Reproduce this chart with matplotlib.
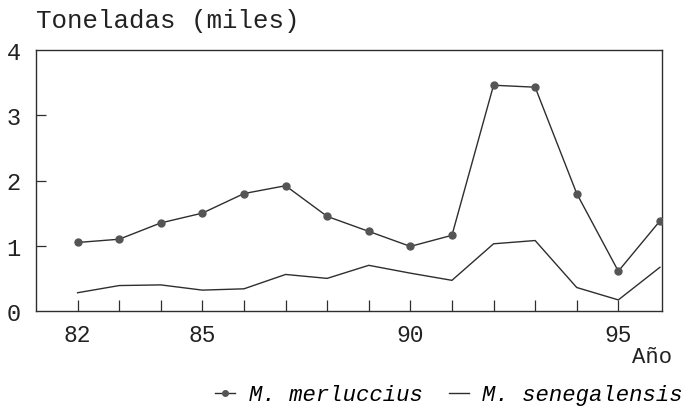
import numpy as np
import matplotlib.pyplot as plt
from matplotlib.lines import Line2D

# datos (miles de toneladas)
years = [82, 83, 84, 85, 86, 87, 88, 89, 90, 91, 92, 93, 94, 95, 96]
merluccius = [1.05, 1.10, 1.35, 1.50, 1.80, 1.92, 1.45, 1.22, 0.99, 1.16, 3.46, 3.43, 1.80, 0.61, 1.38]
senegalensis = [0.28, 0.39, 0.40, 0.32, 0.34, 0.56, 0.50, 0.70, 0.58, 0.47, 1.03, 1.08, 0.36, 0.17, 0.67]

xtick_labels = ['82', '85', '90', '95']
ytick_vals = [0, 1, 2, 3, 4]

FONT = 'Liberation Mono'
INK = '#2e2e2e'

plt.rcParams.update({
    'font.family': FONT,
    'font.size': 16,
    'axes.linewidth': 1.0,
})

fig = plt.figure(figsize=(6.97, 4.10), dpi=100)
ax = fig.add_axes([36 / 697, 1 - 312 / 410, (662 - 36) / 697, (312 - 51) / 410])

ax.plot(years, merluccius, color=INK, lw=1.0, marker='o', ms=5,
        mfc='#555555', mec='#555555', zorder=3)
ax.plot(years, senegalensis, color=INK, lw=1.0, zorder=3)

ax.set_xlim(81.0, 96.05)
ax.set_ylim(0, 4)

ax.set_xticks(years[:-1], minor=True)
ax.set_xticks([int(t) for t in xtick_labels])
ax.set_xticklabels(xtick_labels)
ax.tick_params(axis='x', which='both', direction='in', length=8, width=0.9,
               color=INK, pad=9, labelsize=16.5, labelcolor='#222222')

ax.set_yticks(ytick_vals)
ax.set_yticklabels([str(v) for v in ytick_vals])
ax.tick_params(axis='y', direction='in', length=7, width=0.9, color=INK,
               pad=11, labelsize=17, labelcolor='#222222')
for tl in ax.yaxis.get_major_ticks():
    if tl.get_loc() in (0, 4):
        tl.tick1line.set_visible(False)

for s in ax.spines.values():
    s.set_color(INK)

fig.text(36 / 697, 1 - 28 / 410, 'Toneladas (miles)', ha='left', va='baseline',
         fontsize=18.6, color='#222222')
fig.text(672 / 697, 1 - 358 / 410, 'Año', ha='right', va='center',
         fontsize=16, color='#222222')

handles = [
    Line2D([0], [0], color=INK, lw=1.0, marker='o', ms=4, mfc='#555555', mec='#555555'),
    Line2D([0], [0], color=INK, lw=1.0),
]
fig.legend(handles, ['M. merluccius', 'M. senegalensis'], ncol=2, frameon=False,
           loc='center right', bbox_to_anchor=(692 / 697, 1 - 396 / 410),
           prop={'family': FONT, 'style': 'italic', 'size': 16},
           handlelength=0.9, handletextpad=0.6, columnspacing=1.2, borderaxespad=0)

fig.savefig('out.png', dpi=100)
